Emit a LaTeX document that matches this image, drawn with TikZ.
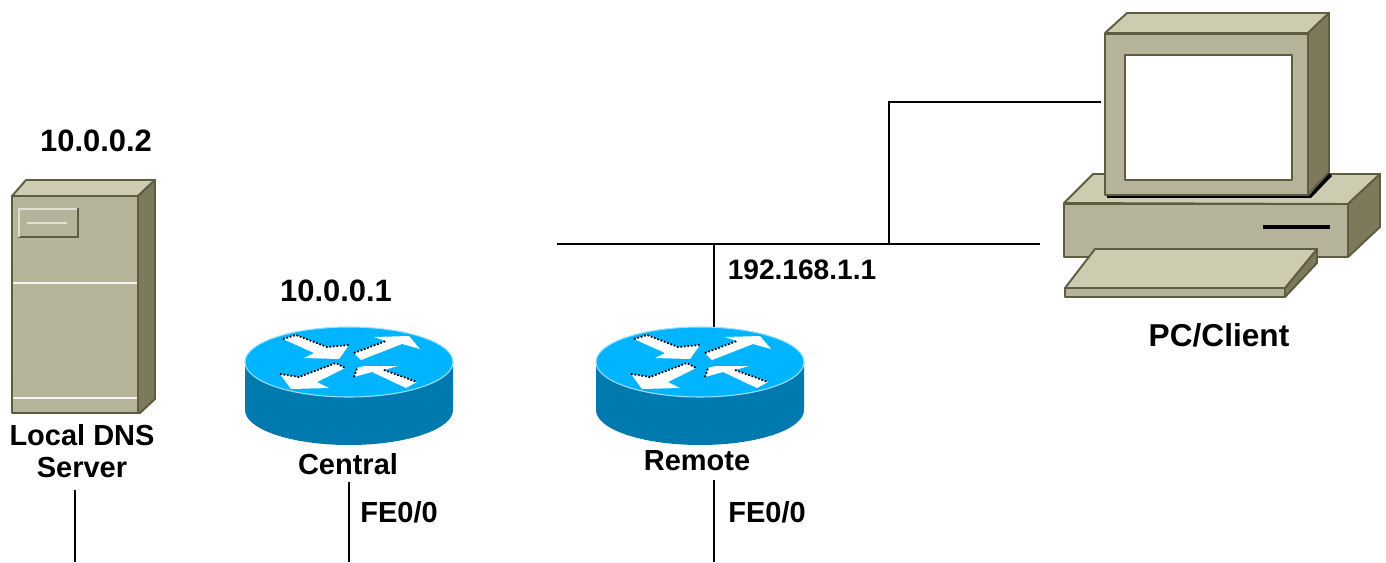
\documentclass[tikz,border=0pt]{standalone}
\usepackage{fontspec}
\setmainfont{Liberation Sans}
\usepackage{xcolor}
\usetikzlibrary{positioning, calc}

\definecolor{beigeFront}{HTML}{B5B49A}
\definecolor{beigeTop}{HTML}{CDCBB0}
\definecolor{beigeSide}{HTML}{7C7A5A}
\definecolor{beigeEdge}{HTML}{5E5D42}
\definecolor{routerTop}{HTML}{00B4FF}
\definecolor{routerSide}{HTML}{0079AE}

\tikzset{
    netlabel/.style={font=\bfseries\fontsize{#1}{20}\selectfont, inner sep=0pt, align=center},
    netlabel/.default=16.5,
    netline/.style={draw=black, line width=1.1pt},
    boxpart/.style={draw=beigeEdge, line width=1.1pt, line join=round},
    arrowdots/.style={draw=black, line width=1pt, densely dotted},
    routericon/.pic={
        % body, then top face
        \fill[routerSide] (-104,0) -- (-104,48) arc (180:0:104 and 35) -- (104,0) -- cycle;
        \draw[routerTop!40!white, line width=0.6pt, fill=routerTop] (0,0) ellipse (104 and 35);
        % four arrows
        \fill[white] (-66,-23) -- (-53,-27) -- (-22,-15) -- (0,-17) -- (-10,-3) -- (-45,-4) -- (-35,-9) -- cycle;
        \fill[white] (5,-9) -- (37,-21) -- (25,-25) -- (60,-26) -- (71,-13) -- (53,-18) -- (12,-2) -- cycle;
        \fill[white] (-69,12) -- (-50,15) -- (-13,1) -- (-4,6) -- (-32,20) -- (-20,26) -- (-58,27) -- cycle;
        \fill[white] (5,15) -- (8,6) -- (15,4) -- (49,4) -- (35,8) -- (68,20) -- (57,26) -- (23,10) -- cycle;
        \draw[arrowdots] (-66,-23) -- (-53,-27) -- (-22,-15) -- (0,-17);
        \draw[arrowdots] (5,-9) -- (37,-21);
        \draw[arrowdots] (-69,12) -- (-50,15) -- (-13,1) -- (-4,6);
        \draw[arrowdots] (5,15) -- (8,6);
        \draw[arrowdots] (35,8) -- (68,20);
    }
}

\begin{document}
\begin{tikzpicture}[x=0.02cm, y=-0.02cm]
\useasboundingbox (0,0) rectangle (1386,562);

% server
\filldraw[boxpart, fill=beigeTop] (12,196) -- (26,180) -- (155,180) -- (138,196) -- cycle;
\filldraw[boxpart, fill=beigeSide] (138,196) -- (155,180) -- (155,399) -- (140,413) -- (138,413) -- cycle;
\filldraw[boxpart, fill=beigeFront] (12,196) rectangle (138,413);
\filldraw[draw=beigeEdge, fill=beigeFront, line width=1pt] (19,209) rectangle (78,237);
\draw[beigeTop!60!white, line width=1pt] (19,237) -- (19,209) -- (77,209);
\draw[beigeTop!60!white, line width=1pt] (27,223) -- (67,223);
\draw[white!85!beigeFront, line width=1pt] (13,283) -- (137,283);
\draw[white!85!beigeFront, line width=1pt] (13,398) -- (137,398);

% routers
\pic at (349,362) {routericon};
\pic at (700,362) {routericon};

% pc, base
\filldraw[boxpart, fill=beigeTop] (1064,203) -- (1093,174) -- (1380,174) -- (1348,204) -- cycle;
\filldraw[boxpart, fill=beigeSide] (1348,204) -- (1380,174) -- (1380,227) -- (1348,257) -- cycle;
\filldraw[boxpart, fill=beigeFront] (1064,204) rectangle (1348,257);
\draw[black, line width=2.6pt] (1263,227) -- (1330,227);
% pc, monitor
\fill[black] (1107,195) rectangle (1311,198);
\fill[black] (1308,197) -- (1311,198) -- (1332,176) -- (1328,172) -- cycle;
\filldraw[boxpart, fill=beigeTop] (1105,33) -- (1127,13) -- (1329,13) -- (1308,33) -- cycle;
\filldraw[boxpart, fill=beigeSide] (1308,33) -- (1329,13) -- (1329,172) -- (1308,195) -- cycle;
\filldraw[boxpart, fill=beigeFront] (1105,34) rectangle (1308,195);
\filldraw[boxpart, fill=white] (1125,55) rectangle (1292,180);
% pc, keyboard
\filldraw[boxpart, fill=beigeSide] (1285,288) -- (1317,249) -- (1317,263) -- (1285,297) -- cycle;
\filldraw[boxpart, fill=beigeFront] (1065,288) rectangle (1285,297);
\filldraw[boxpart, fill=beigeTop] (1065,288) -- (1095,249) -- (1317,249) -- (1285,288) -- cycle;

% labels
\node[netlabel=17.6] (serverip) at (96,141) {10.0.0.2};
\node[netlabel] (servername) at (82,451) {Local DNS\\[-1.5pt]Server};
\node[netlabel=17.6] (centralip) at (336,291) {10.0.0.1};
\node[netlabel] (centralname) at (348,464) {Central};
\node[netlabel] (centralport) at (399,512) {FE0/0};
\node[netlabel] (remotename) at (697,461) {Remote};
\node[netlabel] (remoteport) at (767,512) {FE0/0};
\node[netlabel=16] (remoteip) at (802,270) {192.168.1.1};
\node[netlabel=18] (pcname) at (1219,335) {PC/Client};

% connectors
\coordinate (serverup) at (75,490);
\coordinate (serverdown) at (75,562);
\coordinate (centralup) at (349,482);
\coordinate (centraldown) at (349,562);
\coordinate (remoteup) at (714,480);
\coordinate (remotedown) at (714,562);
\coordinate (busleft) at (557,244);
\coordinate (busright) at (1040,244);
\coordinate (remotetop) at (714,327);
\coordinate (pcport) at (1101,102);
\coordinate (bustap) at (889,244);
\coordinate (remotetap) at (714,244);
\draw[netline] (busleft) -- (busright);
\draw[netline] (remotetap) -- (remotetop);
\draw[netline] (bustap) |- (pcport);
\draw[netline] (serverup) -- (serverdown);
\draw[netline] (centralup) -- (centraldown);
\draw[netline] (remoteup) -- (remotedown);
\end{tikzpicture}
\end{document}
